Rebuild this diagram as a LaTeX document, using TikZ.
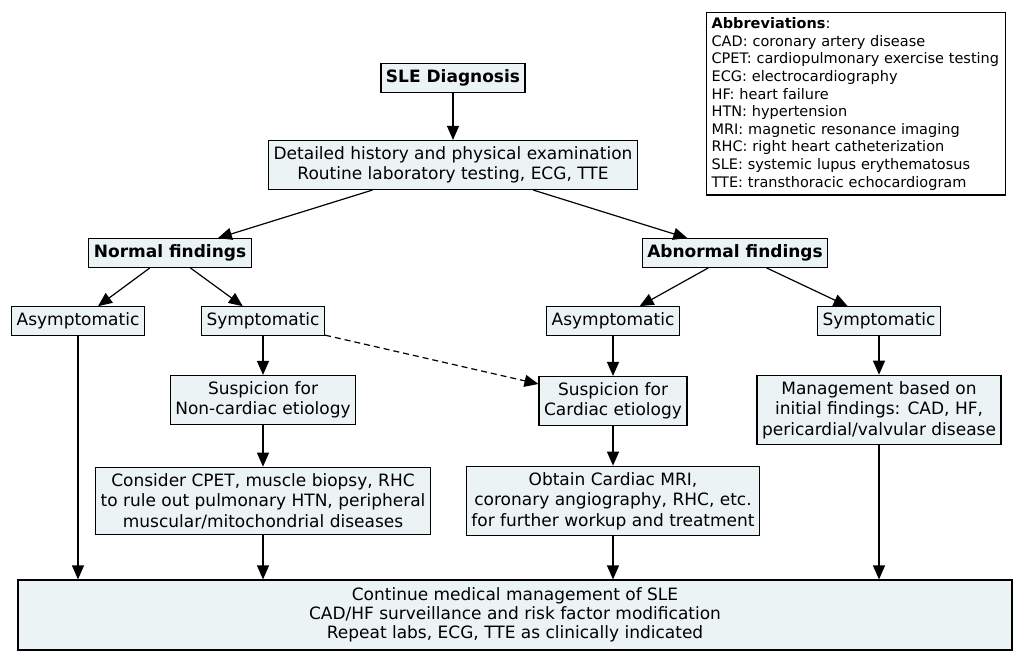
\documentclass[tikz,border=0pt]{standalone}
\usepackage{fontspec}
\setmainfont{DejaVu Sans}
\usepackage{xcolor}
\usetikzlibrary{arrows.meta}

\definecolor{boxfill}{RGB}{236,243,245}

\tikzset{
  box/.style={draw=black, fill=boxfill, line width=1.2pt, align=center,
    inner xsep=5pt, inner ysep=6pt,
    font=\fontsize{17}{20.5}\selectfont},
  headbox/.style={box, font=\fontsize{17}{20.5}\selectfont\bfseries},
}

\begin{document}
\begin{tikzpicture}[x=1pt, y=-1pt, line width=1.2pt,
    >={Triangle[length=14pt, width=12pt]}]
      \useasboundingbox (0,0) rectangle (1024,659);

      \node[headbox, name=diag] at (453,78) {SLE Diagnosis};
      \node[box, name=hist, below of=diag, node distance=87pt]
         {Detailed history and physical examination\\Routine laboratory testing, ECG, TTE};
      \node[headbox, name=norm] at (170,253) {Normal findings};
      \node[headbox, name=abn] at (735,253) {Abnormal findings};

      \node[box, name=asyl] at (78,321) {Asymptomatic};
      \node[box, name=syml] at (263,321) {Symptomatic};
      \node[box, name=asyr] at (613,321) {Asymptomatic};
      \node[box, name=symr] at (879,321) {Symptomatic};

      \node[box, name=noncard, below of=syml, node distance=79pt]
         {Suspicion for\\Non-cardiac etiology};
      \node[box, name=card, below of=asyr, node distance=80pt]
         {Suspicion for\\Cardiac etiology};
      \node[box, name=manage] at (879,410)
         {Management based on\\initial findings: CAD, HF,\\pericardial/valvular disease};

      \node[box, name=cpet, below of=noncard, node distance=101pt]
         {Consider CPET, muscle biopsy, RHC\\to rule out pulmonary HTN, peripheral\\muscular/mitochondrial diseases};
      \node[box, name=mri, below of=card, node distance=100pt]
         {Obtain Cardiac MRI,\\coronary angiography, RHC, etc.\\for further workup and treatment};

      \node[box, name=cont, minimum width=994pt, minimum height=70pt,
            font=\fontsize{17}{19}\selectfont] at (515,615)
         {Continue medical management of SLE\\CAD/HF surveillance and risk factor modification\\Repeat labs, ECG, TTE as clinically indicated};

      \node[draw=black, fill=white, line width=1.2pt, anchor=north west, align=left,
            text width=289pt, inner xsep=5pt, inner ysep=5pt,
            font=\fontsize{14.5}{17.6}\selectfont, name=abbr] at (706,12)
         {\textbf{Abbreviations}:\\
          CAD: coronary artery disease\\
          CPET: cardiopulmonary exercise testing\\
          ECG: electrocardiography\\
          HF: heart failure\\
          HTN: hypertension\\
          MRI: magnetic resonance imaging\\
          RHC: right heart catheterization\\
          SLE: systemic lupus erythematosus\\
          TTE: transthoracic echocardiogram};

      \path[->]
         (diag) edge (hist)
         (hist) edge (norm)
         (hist) edge (abn)
         (norm) edge (asyl)
         (norm) edge (syml)
         (abn) edge (asyr)
         (abn) edge (symr)
         (syml) edge (noncard)
         (asyr) edge (card)
         (symr) edge (manage)
         (noncard) edge (cpet)
         (card) edge (mri)
         (asyl) edge (asyl.south |- cont.north)
         (cpet) edge (cpet.south |- cont.north)
         (mri) edge (mri.south |- cont.north)
         (manage) edge (manage.south |- cont.north);
      \path[->, dashed, dash pattern=on 6pt off 4pt]
         (syml) edge (card);
   \end{tikzpicture}
\end{document}
